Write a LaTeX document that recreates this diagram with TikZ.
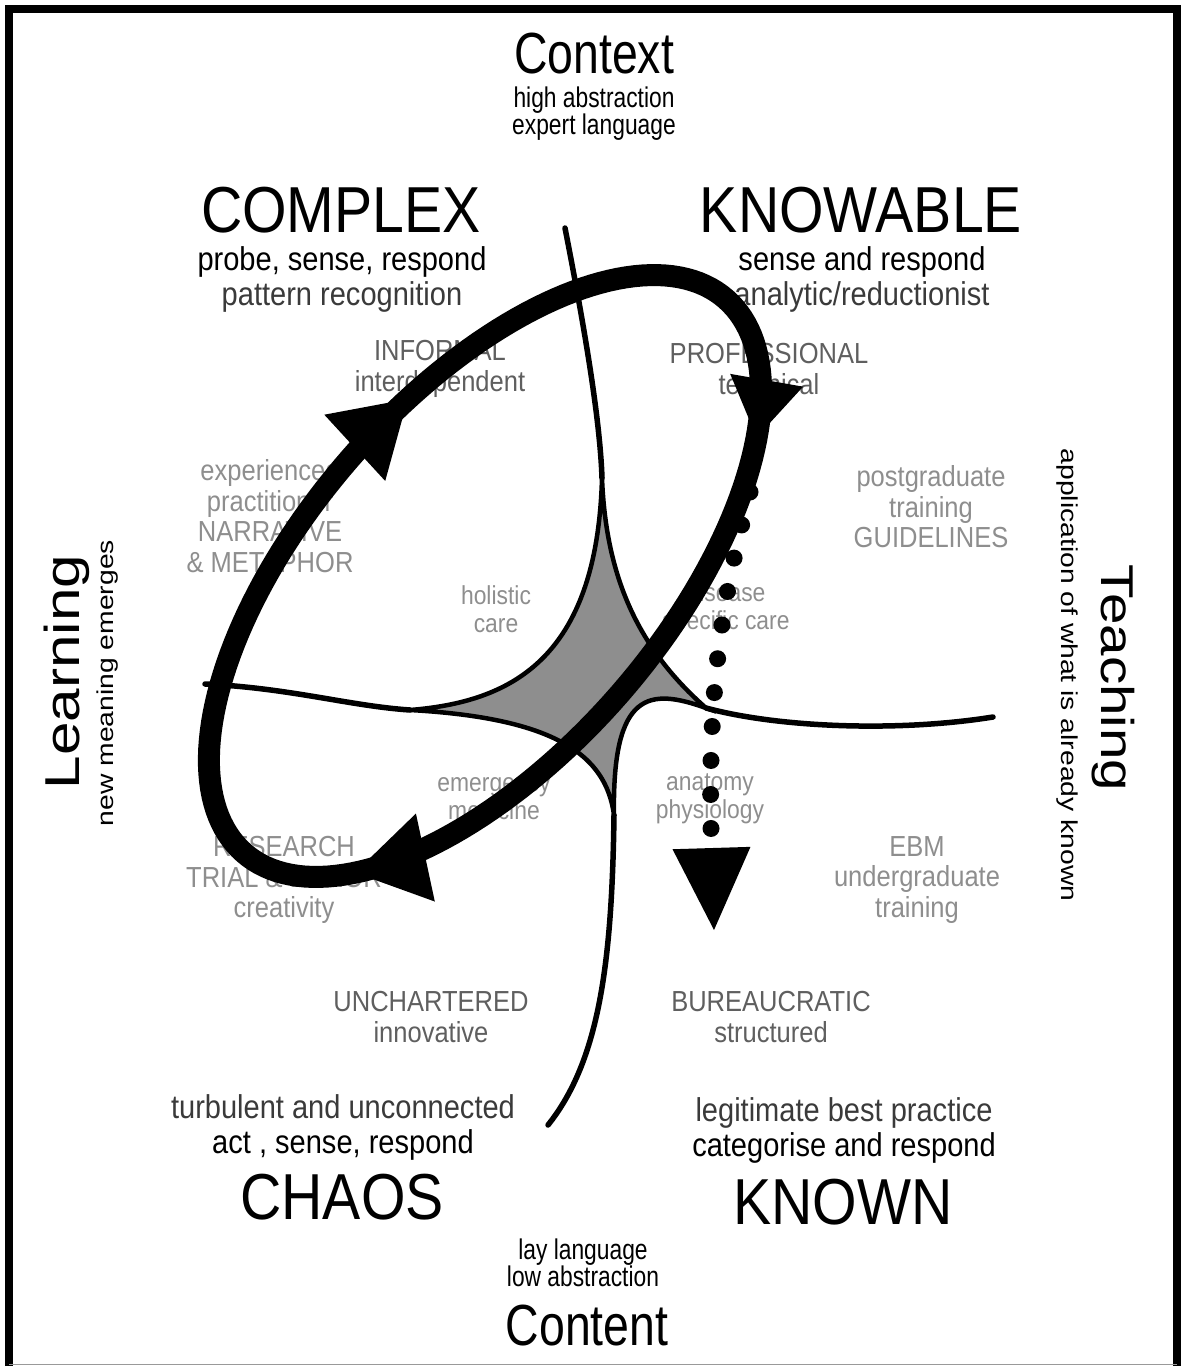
\documentclass[tikz,border=0pt]{standalone}
\usepackage{fontspec}
\setmainfont[FakeStretch=0.88]{Liberation Sans}
\newfontfamily\condfont[FakeStretch=0.8]{Liberation Sans}
\newfontfamily\widefont[FakeStretch=1.23]{Liberation Sans}
\usetikzlibrary{arrows.meta,decorations.markings}
\definecolor{labdark}{HTML}{5F5F5F}
\definecolor{lablight}{HTML}{8E8E8E}
\definecolor{subgray}{HTML}{3A3A3A}
\definecolor{coregray}{HTML}{8E8E8E}
\newcommand{\fsz}[2]{\fontsize{#1}{#2}\selectfont}

\begin{document}
\begin{tikzpicture}[x=1pt,y=-1pt,
  head/.style={inner sep=0pt,font=\fsz{65}{70}},
  sub/.style={inner sep=0pt,align=center,font=\fsz{33}{35}},
  pole/.style={inner sep=0pt,font=\condfont\fsz{58}{60}},
  polesub/.style={inner sep=0pt,align=center,font=\condfont\fsz{28.5}{27}},
  sidetext/.style={inner sep=0pt,font=\widefont\fsz{49}{50}},
  sidesub/.style={inner sep=0pt,font=\widefont\fsz{23}{25}},
  lab/.style={inner sep=0pt,align=center,text=lablight,font=\fsz{29}{30.5}},
  labd/.style={lab,text=labdark},
  core lab/.style={inner sep=0pt,align=center,text=lablight,font=\fsz{26}{28}},
  corestar/.style={fill=coregray,draw=black,line width=4.5pt},
  tail/.style={line width=5.5pt,line cap=round},
  cycleband/.style={line width=22pt,postaction={decorate},decoration={markings,
    mark=at position 0.084 with {\arrow{Triangle[width=74pt,length=58pt,line width=0pt]}},
    mark=at position 0.434 with {\arrow{Triangle[width=90pt,length=72pt,line width=0pt]}},
    mark=at position 0.797 with {\arrow{Triangle[width=90pt,length=72pt,line width=0pt]}}}},
  dotflow/.style={line width=17pt,line cap=round,dash pattern=on 0pt off 34pt,
    -{Triangle[width=78pt,length=82pt,line width=0pt]}}]
\useasboundingbox (0,0) rectangle (1180,1367);
\draw[line width=8pt] (9,1366) -- (9,9) -- (1177,9) -- (1177,1366);
\draw[line width=1.5pt,black!40] (9,1364.5) -- (1177,1364.5);

\node[pole] (ctx) at (594,54) {Context};
\node[polesub] (ctxsub) at (594,114) {high abstraction\\expert language};
\node[head] (cplx) at (341,210) {COMPLEX};
\node[sub] (cplxsub) at (342,279) {probe, sense, respond\\\textcolor{subgray}{pattern recognition}};
\node[head] (knw) at (861,210) {KNOWABLE};
\node[sub] (knwsub) at (862,279) {sense and respond\\\textcolor{subgray}{analytic/reductionist}};
\node[labd] (infml) at (440,369) {INFORMAL\\interdependent};
\node[labd] (prof) at (769,369) {PROFESSIONAL\\technical};
\node[lab] (narr) at (270,516) {experienced\\practitioner\\NARRATIVE\\\& METAPHOR};
\node[core lab] (holi) at (496,609) {holistic\\care};
\node[core lab] (dis) at (726,609) {disease\\specific care};
\node[lab] (guide) at (931,507) {postgraduate\\training\\GUIDELINES};
\node[core lab] (emer) at (494,799) {emergency\\medicine};
\node[core lab] (anat) at (710,799) {anatomy\\physiology};
\node[lab] (res) at (284,880) {RESEARCH\\TRIAL \& ERROR\\creativity};
\node[lab] (ebm) at (917,880) {EBM\\undergraduate\\training};
\node[labd] (unch) at (431,1017) {UNCHARTERED\\innovative};
\node[labd] (bur) at (771,1017) {BUREAUCRATIC\\structured};
\node[sub] (chsub) at (343,1127) {\textcolor{subgray}{turbulent and unconnected}\\act , sense, respond};
\node[head] (chaos) at (342,1197) {CHAOS};
\node[sub] (knsub) at (844,1130) {\textcolor{subgray}{legitimate best practice}\\categorise and respond};
\node[head] (known) at (843,1202) {KNOWN};
\node[polesub] (cntsub) at (583,1263) {lay language\\low abstraction};
\node[pole] (cnt) at (587,1326) {Content};
\node[sidetext,rotate=90] (learn) at (67,672) {Learning};
\node[sidesub,rotate=90] (learnsub) at (108,683) {new meaning emerges};
\node[sidetext,font=\widefont\fsz{46}{48},rotate=-90] (teach) at (1113,678) {Teaching};
\node[sidesub,rotate=-90] (teachsub) at (1067,675) {application of what is already known};

\coordinate (T) at (602,478);
\coordinate (R) at (706,708);
\coordinate (B) at (614,815);
\coordinate (L) at (410,710);
\coordinate (topE) at (565,228);
\coordinate (leftE) at (205,684);
\coordinate (rightE) at (993,717);
\coordinate (botE) at (548,1125);
\draw[corestar] (T) .. controls (606,580) and (640,650) .. (R)
  .. controls (650,688) and (612,690) .. (B)
  .. controls (606,755) and (555,718) .. (L)
  .. controls (510,702) and (597,660) .. (T) -- cycle;
\draw[tail] (topE) .. controls (585,330) and (600,420) .. (T);
\draw[tail] (leftE) .. controls (290,688) and (350,706) .. (L);
\draw[tail] (R) .. controls (780,728) and (900,732) .. (rightE);
\draw[tail] (B) .. controls (612,960) and (600,1060) .. (botE);

\draw[cycleband] plot[domain=0:360,samples=181,variable=\t]
  ({485+240.8*cos(\t)+135.1*sin(\t)},{576-277.1*cos(\t)+117.4*sin(\t)}) -- cycle;

\coordinate (dotS) at (750,492);
\coordinate (dotE) at (714,930);
\draw[dotflow] (dotS) .. controls (720,605) and (707,700) .. (dotE);
\end{tikzpicture}
\end{document}
